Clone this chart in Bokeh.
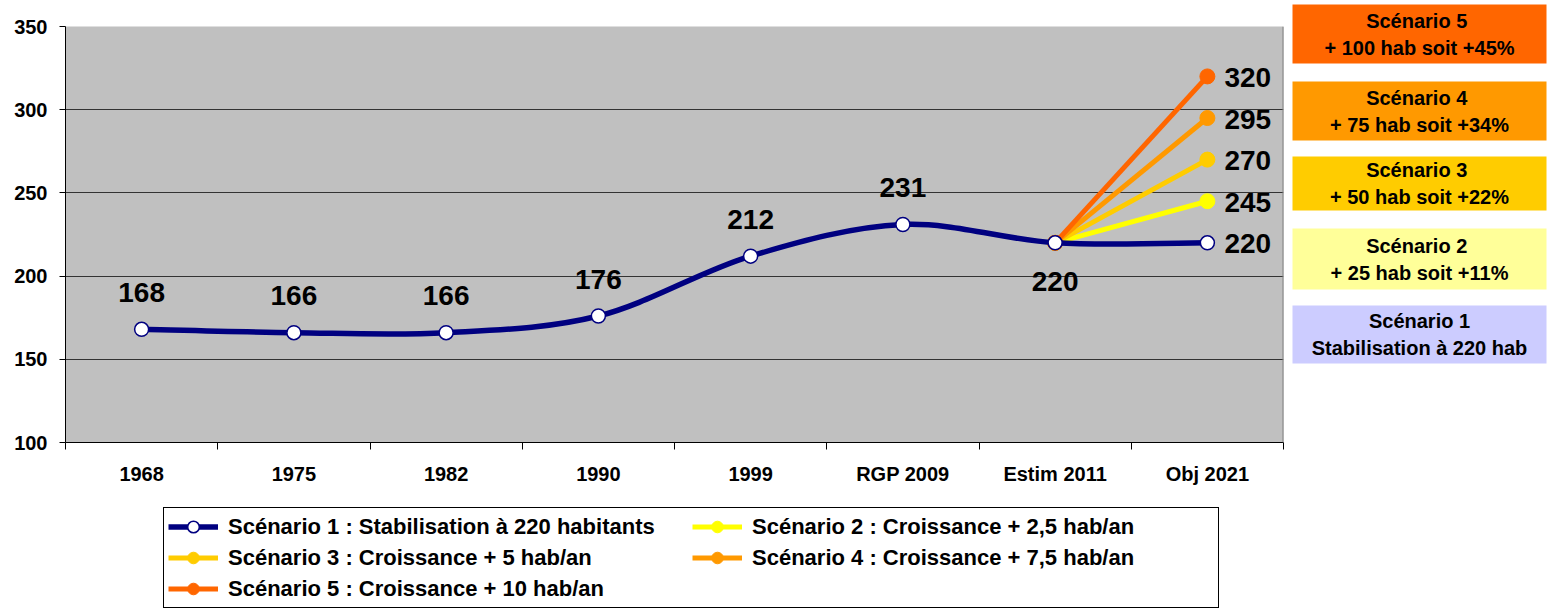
from bokeh.plotting import figure
from bokeh.models import FixedTicker, Range1d, Span, Legend, LegendItem
from bokeh.layouts import row, column
from bokeh.embed import file_html
from bokeh.resources import INLINE
from bokeh.core.properties import value

# ---------------- data ----------------
categories = ["1968", "1975", "1982", "1990", "1999", "RGP 2009", "Estim 2011", "Obj 2021"]
population = [168, 166, 166, 176, 212, 231, 220, 220]
scenario_targets = [245, 270, 295, 320]          # scenarios 2..5 at Obj 2021
scenario_colors = ["#FFFF00", "#FFCC00", "#FF9900", "#FF6600"]
s1_color = "#000080"
legend_labels = [
    "Scénario 1 : Stabilisation à 220 habitants",
    "Scénario 2 : Croissance + 2,5 hab/an",
    "Scénario 3 : Croissance + 5 hab/an",
    "Scénario 4 : Croissance + 7,5 hab/an",
    "Scénario 5 : Croissance + 10 hab/an",
]
box_titles = ["Scénario  5", "Scénario  4", "Scénario  3", "Scénario  2", "Scénario 1"]
box_subtitles = ["+ 100 hab soit +45%", "+ 75 hab soit +34%", "+ 50 hab soit +22%",
                 "+ 25 hab soit +11%", "Stabilisation à 220 hab"]
box_colors = ["#FF6600", "#FF9900", "#FFCC00", "#FFFF99", "#CCCCFF"]
y_ticks = [100, 150, 200, 250, 300, 350]

FONT = "Liberation Sans"
xs = list(range(len(categories)))
n = len(population)


def pt(i):
    i = min(max(i, 0), n - 1)
    return xs[i], population[i]


# Excel-like smoothing of scenario 1 via bezier segments (control points from the data)
bez = dict(x0=[], y0=[], x1=[], y1=[], cx0=[], cy0=[], cx1=[], cy1=[])
for i in range(n - 1):
    xa, ya = pt(i)
    xb, yb = pt(i + 1)
    xp, yp = pt(i - 1)
    xn, yn = pt(i + 2)
    bez["x0"].append(xa); bez["y0"].append(ya); bez["x1"].append(xb); bez["y1"].append(yb)
    bez["cx0"].append(xa + (xb - xp) / 6); bez["cy0"].append(ya + (yb - yp) / 6)
    bez["cx1"].append(xb - (xn - xa) / 6); bez["cy1"].append(yb - (yn - ya) / 6)


def draw_series(fig):
    """Draw all series on fig; returns renderers for the legend."""
    sc = []
    for tgt, col in zip(scenario_targets, scenario_colors):
        lx = [xs[-2], xs[-1]]
        ly = [population[-2], tgt]
        lr = fig.line(lx, ly, line_color=col, line_width=5)
        sr = fig.scatter(lx, ly, size=15, fill_color=col, line_color=col)
        sc.append((lr, sr))
    curve = fig.bezier(**bez, line_color=s1_color, line_width=5.5)
    pts = fig.scatter(xs, population, size=14, fill_color="white", line_color=s1_color,
                      line_width=1.5)
    return (curve, pts), sc


# ---------------- main chart ----------------
p = figure(width=1288, height=492, x_range=Range1d(-0.5, len(categories) - 0.5),
           y_range=Range1d(100, 350), output_backend="svg", toolbar_location=None,
           min_border_left=65, min_border_right=5, min_border_top=26, min_border_bottom=50,
           background_fill_color="#C0C0C0", border_fill_color="white",
           outline_line_color=None)
p.frame_align = False

p.xgrid.visible = False
p.ygrid.ticker = FixedTicker(ticks=y_ticks[1:-1])
p.ygrid.grid_line_color = "#333333"
p.ygrid.grid_line_width = 1

p.yaxis.ticker = FixedTicker(ticks=y_ticks)
p.yaxis.major_tick_out = 6
p.yaxis.major_tick_in = 0
p.yaxis.minor_tick_out = 0
p.yaxis.minor_tick_in = 0
p.yaxis.major_label_standoff = 12
p.yaxis.axis_line_color = "black"

p.xaxis.ticker = FixedTicker(ticks=xs, minor_ticks=[i - 0.5 for i in range(len(categories) + 1)])
p.xaxis.major_label_overrides = {i: c for i, c in enumerate(categories)}
p.xaxis.major_tick_out = 0
p.xaxis.major_tick_in = 0
p.xaxis.minor_tick_out = 7
p.xaxis.minor_tick_in = 0
p.xaxis.minor_tick_line_color = "black"
p.xaxis.major_label_standoff = 13
p.xaxis.axis_line_color = "black"

for ax in (p.xaxis[0], p.yaxis[0]):
    ax.major_label_text_font = FONT
    ax.major_label_text_font_style = "bold"
    ax.major_label_text_font_size = "20px"
    ax.major_label_text_color = "black"

p.add_layout(Span(location=len(categories) - 0.5, dimension="height",
                  line_color="#808080", line_width=2))

draw_series(p)

label_kw = dict(text_font=value(FONT), text_font_style="bold", text_font_size="28px",
                text_color="black", text_baseline="middle")
# labels above the points
p.text(x=xs[:-2], y=population[:-2], text=[str(v) for v in population[:-2]],
       text_align="center", y_offset=-37, **label_kw)
# label below Estim 2011
p.text(x=[xs[-2]], y=[population[-2]], text=[str(population[-2])],
       text_align="center", y_offset=39, **label_kw)
# labels right of Obj 2021
end_vals = [population[-1]] + scenario_targets
p.text(x=[xs[-1]] * len(end_vals), y=end_vals, text=[str(v) for v in end_vals],
       text_align="left", x_offset=17, y_offset=1, **label_kw)

# ---------------- scenario boxes (right) ----------------
q = figure(width=262, height=420, x_range=Range1d(0, 262), y_range=Range1d(420, 0),
           output_backend="svg", toolbar_location=None, min_border=0,
           outline_line_color=None, background_fill_color="white",
           border_fill_color="white", x_axis_type=None, y_axis_type=None)
q.frame_align = False
q.grid.visible = False

tops = [4, 81, 156, 228, 305]
bottoms = [63, 140, 210, 289, 363]
centers = [(t + b) / 2 for t, b in zip(tops, bottoms)]
q.quad(left=[4] * 5, right=[258] * 5, top=tops, bottom=bottoms,
       fill_color=box_colors, line_color=None)
box_kw = dict(text_font=value(FONT), text_font_style="bold", text_font_size="20px",
              text_color="black", text_align="center", text_baseline="middle")
q.text(x=[131] * 5, y=[c - 13.5 for c in centers], text=box_titles, **box_kw)
q.text(x=[131] * 5, y=[c + 13.5 for c in centers], text=box_subtitles, **box_kw)

# ---------------- legend strip (below) ----------------
lf = figure(width=1550, height=116, x_range=Range1d(100, 101), y_range=Range1d(1000, 1001),
            output_backend="svg", toolbar_location=None, min_border=0,
            outline_line_color=None, background_fill_color="white",
            border_fill_color="white", x_axis_type=None, y_axis_type=None)
lf.frame_align = False
lf.grid.visible = False
(l_curve, l_pts), l_sc = draw_series(lf)

items = [LegendItem(label=legend_labels[0], renderers=[l_curve, l_pts])]
for lab, (lr, sr) in zip(legend_labels[1:], l_sc):
    items.append(LegendItem(label=lab, renderers=[lr, sr]))

legend = Legend(items=items, location=(163, 0), orientation="horizontal", ncols=2,
                glyph_width=50, glyph_height=29, label_standoff=10, label_width=462,
                label_height=29, spacing=2, padding=4, margin=0,
                border_line_color="black", border_line_width=1, border_line_alpha=1,
                background_fill_color="white", background_fill_alpha=1,
                label_text_font=FONT, label_text_font_style="bold",
                label_text_font_size="22px", label_text_color="black")
lf.add_layout(legend, "center")

layout = column(row(p, q), lf)
open("out.html", "w").write(file_html(layout, INLINE))
